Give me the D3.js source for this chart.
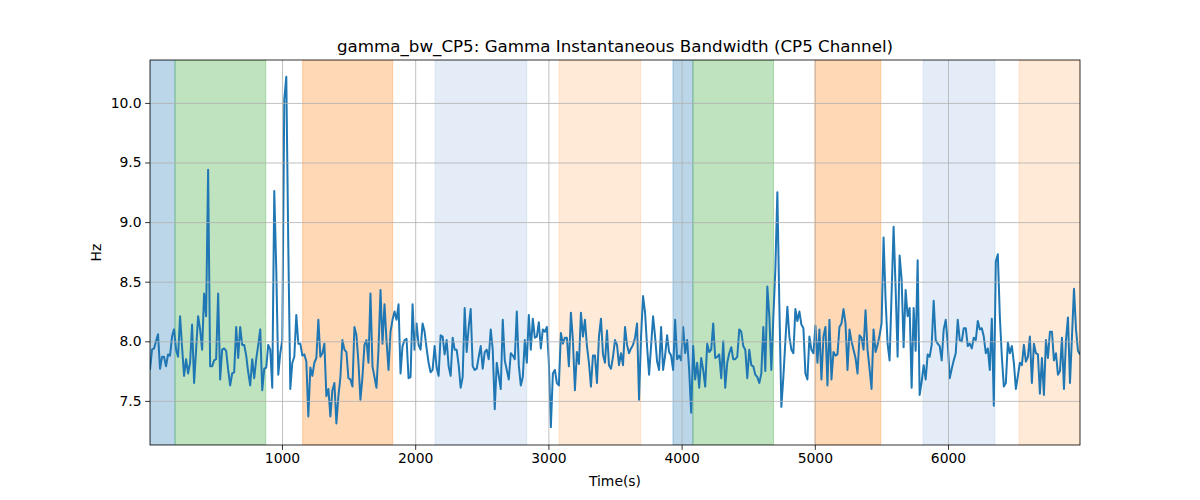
<!DOCTYPE html>
<html><head><meta charset="utf-8">
<script src="https://cdn.jsdelivr.net/npm/d3@7"></script>
<style>body{margin:0;background:#fff}svg{display:block}text{font-family:"DejaVu Sans",sans-serif}</style>
</head><body><svg id="c" width="1200" height="500"></svg>
<script>
const title = "gamma_bw_CP5: Gamma Instantaneous Bandwidth (CP5 Channel)";
const xLabel = "Time(s)";
const yLabel = "Hz";
const xTicks = [1000, 2000, 3000, 4000, 5000, 6000];
const yTicks = [7.5, 8.0, 8.5, 9.0, 9.5, 10.0];
const timeRange = [9, 6991];
const yRange = [7.13, 10.36];
const bandwidth = [
7.76,7.93,7.94,8.00,8.06,7.77,7.87,7.87,7.79,7.89,
7.88,8.04,8.10,7.93,7.87,8.21,7.95,7.71,7.85,7.73,
7.82,8.14,7.65,7.93,8.21,8.10,7.93,8.40,8.21,9.44,
7.79,7.79,7.84,7.85,8.40,7.68,7.93,7.94,7.92,7.76,
7.63,7.73,7.74,8.12,7.86,8.12,7.97,7.97,7.88,7.74,
7.63,7.85,7.69,7.85,7.97,8.10,7.59,7.77,7.78,7.97,
7.93,7.61,9.26,8.60,7.72,7.90,8.01,10.03,10.22,8.80,
7.60,7.82,7.87,8.22,7.98,7.98,7.88,
7.89,7.83,7.37,7.78,7.71,7.82,7.86,8.18,7.87,7.90,
7.98,7.54,7.60,7.37,7.59,7.65,7.31,7.54,7.70,8.01,
7.93,7.91,7.69,7.68,7.62,8.12,8.05,7.82,7.51,7.70,
7.97,8.01,7.82,8.40,7.79,7.70,7.61,7.93,8.43,7.98,
8.31,8.01,7.76,8.08,8.18,8.25,8.18,8.31,7.73,7.96,
8.01,8.02,7.69,7.70,8.31,7.93,8.15,7.97,7.93,8.15,
8.08,7.94,7.82,7.74,7.76,7.96,7.78,7.71,8.05,8.04,
7.89,8.01,7.79,7.71,8.03,7.93,7.93,7.80,7.61,
7.70,8.28,7.91,8.12,8.27,7.79,7.76,7.77,7.87,7.96,
7.77,7.91,7.93,7.85,8.10,7.93,7.43,7.82,7.71,7.60,
8.18,7.84,7.76,7.68,7.90,7.88,7.85,8.25,7.80,7.63,
7.70,8.01,7.82,8.22,7.93,8.19,8.03,8.04,8.16,7.94,
8.10,8.08,8.12,7.82,7.28,7.73,7.76,7.65,7.63,8.07,
7.98,8.03,8.03,7.79,8.24,8.01,7.59,7.91,7.81,8.24,
8.04,8.18,7.96,7.82,7.62,7.88,7.88,7.65,8.04,8.19,
7.89,7.82,8.09,7.80,7.77,7.87,8.01,
7.97,7.80,7.90,7.80,8.12,7.97,7.90,7.94,7.97,8.03,
8.15,7.51,8.04,8.38,8.24,7.96,7.72,7.96,8.21,8.04,
7.83,7.76,8.12,7.76,7.88,8.05,7.91,7.88,7.76,8.18,
7.85,7.88,7.84,8.12,7.90,8.01,7.76,7.40,7.96,7.68,
7.82,7.61,7.86,7.76,7.62,7.98,7.91,7.93,8.15,7.86,
7.87,7.89,7.69,8.00,7.61,7.82,7.90,7.95,7.85,7.85,
7.87,8.10,8.08,7.96,7.93,7.69,7.93,7.80,7.79,7.72,
7.70,7.65,7.73,8.12,7.75,8.46,8.21,7.76,
8.20,8.60,9.25,8.30,7.45,7.70,8.00,8.29,8.04,7.93,
7.90,8.27,8.17,8.25,8.14,8.11,7.73,7.68,8.04,7.93,
7.90,8.13,7.82,8.10,7.68,8.04,8.12,7.63,8.18,7.68,
7.91,7.88,7.89,8.12,8.15,8.27,8.15,7.76,8.10,8.00,
7.93,7.86,7.73,8.05,8.03,7.93,8.26,7.93,7.77,7.60,
8.10,7.91,7.97,8.05,8.15,
8.87,8.35,7.98,7.84,8.40,8.96,8.45,7.87,8.72,8.52,
7.95,8.43,8.21,8.28,7.61,8.28,7.92,8.68,7.55,7.66,
7.80,7.68,
7.89,7.87,7.97,8.34,8.01,7.98,7.96,7.84,8.10,8.18,
7.98,7.69,7.77,7.84,7.90,8.18,8.01,8.00,8.11,8.11,
7.96,7.98,7.94,8.03,8.01,8.17,8.10,8.11,8.04,7.90,
7.94,7.76,8.19,7.46,8.67,8.73,8.21,7.87,7.62,7.65,
7.99,7.90,7.96,7.82,7.60,7.71,7.82,7.80,7.97,7.83,
7.87,8.04,7.65,7.98,7.90,7.89,7.56,7.86,7.55,8.01,
7.86,8.08,8.08,7.84,7.90,7.72,7.75,8.03,7.60,8.01,
8.20,7.65,8.04,8.44,8.10,7.92,7.89
];
// shaded intervals: start, end, kind
const spanStarts = [9, 197, 1155, 2149, 3080, 3935, 4085, 5000, 5812, 6533];
const spanEnds   = [197, 878, 1831, 2837, 3693, 4085, 4690, 5495, 6353, 6991];
const spanKinds  = ["blue", "green", "orange", "lightblue", "lightorange", "blue", "green", "orange", "lightblue", "lightorange"];
const spanStyle = {
  blue: {c: "#1f77b4", o: 0.3},
  green: {c: "#2ca02c", o: 0.3},
  orange: {c: "#ff7f0e", o: 0.3},
  lightblue: {c: "#aec7e8", o: 0.33},
  lightorange: {c: "#ff7f0e", o: 0.16}
};

const M = {l: 150, r: 1080, t: 60, b: 445};
const svg = d3.select("#c");
const n = bandwidth.length;
const times = bandwidth.map((_, i) => timeRange[0] + i * (timeRange[1] - timeRange[0]) / (n - 1));
const x = d3.scaleLinear().domain(timeRange).range([M.l, M.r]);
const y = d3.scaleLinear().domain(yRange).range([M.b, M.t]);

svg.append("defs").append("clipPath").attr("id", "clip")
  .append("rect").attr("x", M.l).attr("y", M.t).attr("width", M.r - M.l).attr("height", M.b - M.t);

const g = svg.append("g").attr("clip-path", "url(#clip)");
spanStarts.forEach((s, i) => {
  const st = spanStyle[spanKinds[i]];
  g.append("rect").attr("x", x(s)).attr("y", M.t).attr("width", x(spanEnds[i]) - x(s)).attr("height", M.b - M.t)
    .attr("fill", st.c).attr("fill-opacity", st.o)
    .attr("stroke", st.c).attr("stroke-opacity", st.o).attr("stroke-width", 1);
});

// grid
const xAxisG = svg.append("g").attr("transform", `translate(0,${M.b})`)
  .call(d3.axisBottom(x).tickValues(xTicks).tickFormat(d3.format("d")).tickSizeOuter(0).tickSize(-(M.b - M.t)));
xAxisG.select(".domain").remove();
xAxisG.selectAll(".tick line").attr("stroke", "#b0b0b0").attr("stroke-width", 0.8);
xAxisG.selectAll(".tick text").remove();
const yAxisG = svg.append("g").attr("transform", `translate(${M.l},0)`)
  .call(d3.axisLeft(y).tickValues(yTicks).tickSizeOuter(0).tickSize(-(M.r - M.l)));
yAxisG.select(".domain").remove();
yAxisG.selectAll(".tick line").attr("stroke", "#b0b0b0").attr("stroke-width", 0.8);
yAxisG.selectAll(".tick text").remove();

// line
const line = d3.line().x((d, i) => x(times[i])).y(d => y(d));
g.append("path").datum(bandwidth).attr("d", line).attr("fill", "none")
  .attr("stroke", "#1f77b4").attr("stroke-width", 2).attr("stroke-linejoin", "round");

// axes with ticks
const xa = svg.append("g").attr("transform", `translate(0,${M.b})`)
  .call(d3.axisBottom(x).tickValues(xTicks).tickFormat(d3.format("d")).tickSizeOuter(0).tickSize(4.9).tickPadding(3.5));
xa.select(".domain").remove();
xa.selectAll("text").attr("font-size", 13.9).attr("fill", "#000").attr("font-family", "DejaVu Sans");
xa.selectAll("line").attr("stroke", "#000").attr("stroke-width", 0.8);
const ya = svg.append("g").attr("transform", `translate(${M.l},0)`)
  .call(d3.axisLeft(y).tickValues(yTicks).tickFormat(d3.format(".1f")).tickSizeOuter(0).tickSize(4.9).tickPadding(3.5));
ya.select(".domain").remove();
ya.selectAll("text").attr("font-size", 13.9).attr("fill", "#000").attr("font-family", "DejaVu Sans");
ya.selectAll("line").attr("stroke", "#000").attr("stroke-width", 0.8);

svg.append("rect").attr("x", M.l).attr("y", M.t).attr("width", M.r - M.l).attr("height", M.b - M.t)
  .attr("fill", "none").attr("stroke", "#000").attr("stroke-width", 0.8);

svg.append("text").attr("x", (M.l + M.r) / 2).attr("y", 52).attr("text-anchor", "middle")
  .attr("font-size", 16.7).text(title);
svg.append("text").attr("x", (M.l + M.r) / 2).attr("y", 486).attr("text-anchor", "middle")
  .attr("font-size", 13.9).text(xLabel);
svg.append("text").attr("transform", `translate(101,${(M.t + M.b) / 2}) rotate(-90)`).attr("text-anchor", "middle")
  .attr("font-size", 13.9).text(yLabel);
</script></body></html>
